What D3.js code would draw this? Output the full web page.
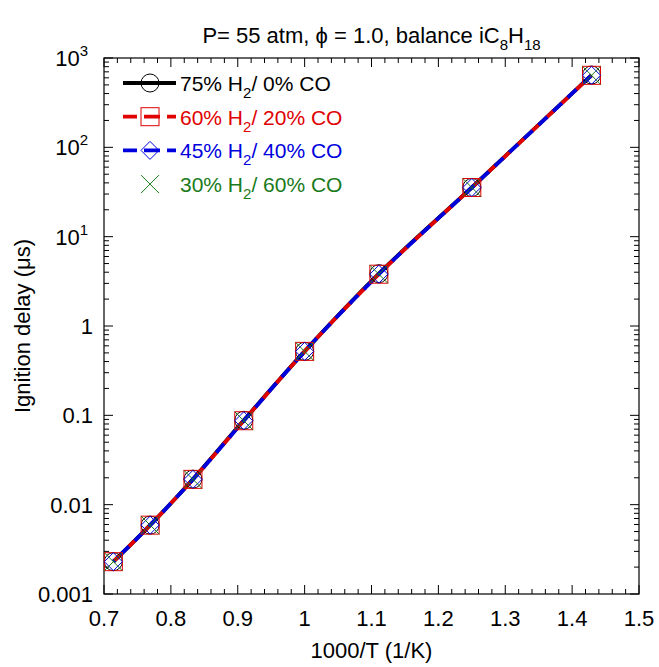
<!DOCTYPE html>
<html>
<head>
<meta charset="utf-8">
<script src="https://cdn.jsdelivr.net/npm/d3@7"></script>
<style>
  body { margin: 0; background: #fff; }
  text { font-family: "Liberation Sans", Arial, sans-serif; }
</style>
</head>
<body>
<div id="chart"></div>
<script>
// data
const invT = [0.714, 0.769, 0.833, 0.909, 1.0, 1.111, 1.25, 1.429];
const tauH2_75 = [0.0023, 0.0059, 0.0193, 0.088, 0.52, 3.85, 35.5, 645];
const tauH2_60 = [0.0023, 0.0059, 0.0192, 0.087, 0.52, 3.8, 35.5, 640];
const tauH2_45 = [0.0023, 0.0059, 0.0192, 0.087, 0.52, 3.8, 35.5, 640];
const tauH2_30 = [0.0023, 0.0059, 0.0192, 0.087, 0.52, 3.8, 35.5, 640];
const xTicks = [0.7, 0.8, 0.9, 1, 1.1, 1.2, 1.3, 1.4, 1.5];
const yTicks = [0.001, 0.01, 0.1, 1, 10, 100, 1000];

const series = [
  {h2: "75%", co: "0% CO", values: tauH2_75, color: "#000000", dash: null, off: 0, marker: "circle"},
  {h2: "60%", co: "20% CO", values: tauH2_60, color: "#e00000", dash: "12,8", off: 0, marker: "square"},
  {h2: "45%", co: "40% CO", values: tauH2_45, color: "#0000dd", dash: "12,8", off: 10, marker: "diamond"},
  {h2: "30%", co: "60% CO", values: tauH2_30, color: "#1a7a1a", dash: null, off: 0, marker: "cross"}
];

const W = 659, H = 667;
const margin = {top: 58, right: 20, bottom: 73, left: 104};
const width = W - margin.left - margin.right,
      height = H - margin.top - margin.bottom;

const svg = d3.select("#chart").append("svg")
  .attr("width", W).attr("height", H);

const g = svg.append("g")
  .attr("transform", "translate(" + margin.left + "," + margin.top + ")");

const x = d3.scaleLinear().domain([0.7, 1.5]).range([0, width]);
const y = d3.scaleLog().domain([0.001, 1000]).range([height, 0]);

// minor ticks
const xMinor = d3.range(0.7, 1.5001, 0.02);
const yMinor = [];
for (let e = -3; e < 3; e++) for (let k = 2; k <= 9; k++) yMinor.push(k * Math.pow(10, e));

const tickG = g.append("g").attr("stroke", "#000").attr("stroke-width", 1);
xMinor.forEach(v => {
  const major = xTicks.some(t => Math.abs(t - v) < 1e-6);
  const len = major ? 9 : 5;
  tickG.append("line").attr("x1", x(v)).attr("x2", x(v)).attr("y1", height).attr("y2", height - len);
  tickG.append("line").attr("x1", x(v)).attr("x2", x(v)).attr("y1", 0).attr("y2", len);
});
yTicks.concat(yMinor).forEach(v => {
  const major = yTicks.indexOf(v) >= 0;
  const len = major ? 9 : 5;
  tickG.append("line").attr("x1", 0).attr("x2", len).attr("y1", y(v)).attr("y2", y(v));
  tickG.append("line").attr("x1", width).attr("x2", width - len).attr("y1", y(v)).attr("y2", y(v));
});

// frame
g.append("rect").attr("width", width).attr("height", height)
  .attr("fill", "none").attr("stroke", "#000").attr("stroke-width", 1.2);

// x tick labels
g.selectAll(".xl").data(xTicks).enter().append("text")
  .attr("x", d => x(d)).attr("y", height + 32)
  .attr("text-anchor", "middle").attr("font-size", 22)
  .text(d => d3.format("~g")(d));

// y tick labels
const yl = g.selectAll(".yl").data(yTicks).enter().append("text")
  .attr("y", d => y(d) + 8)
  .attr("font-size", 22).attr("text-anchor", "end");
yl.each(function(d) {
  const t = d3.select(this);
  const e = Math.round(Math.log10(d));
  if (e >= 1) {
    t.attr("x", -16);
    t.append("tspan").text("10");
    t.append("tspan").attr("dy", -10).attr("font-size", 15).text(e);
  } else {
    t.attr("x", -11).text(d3.format("~g")(d));
  }
});

// axis titles
g.append("text").attr("x", width / 2).attr("y", height + 64)
  .attr("text-anchor", "middle").attr("font-size", 22).text("1000/T (1/K)");
g.append("text")
  .attr("transform", "translate(" + (-74) + "," + (height / 2) + ") rotate(-90)")
  .attr("text-anchor", "middle").attr("font-size", 22).text("Ignition delay (\u03bcs)");

// title
const title = svg.append("text").attr("x", margin.left + width / 2).attr("y", 43)
  .attr("text-anchor", "middle").attr("font-size", 22);
title.append("tspan").text("P= 55 atm, \u03d5 = 1.0, balance iC");
title.append("tspan").attr("dy", 7).attr("font-size", 15).text("8");
title.append("tspan").attr("dy", -7).text("H");
title.append("tspan").attr("dy", 7).attr("font-size", 15).text("18");

// lines
const line = d3.line()
  .x(d => x(d[0])).y(d => y(d[1]))
  .curve(d3.curveMonotoneX);

series.forEach(s => {
  if (s.marker === "cross") return;
  g.append("path")
    .datum(invT.map((v, i) => [v, s.values[i]]))
    .attr("fill", "none").attr("stroke", s.color)
    .attr("stroke-width", 3.8)
    .attr("stroke-dasharray", s.dash)
    .attr("stroke-dashoffset", s.off)
    .attr("d", line);
});

function drawMarker(sel, type, color, cx, cy) {
  if (type === "circle") {
    sel.append("circle").attr("cx", cx).attr("cy", cy).attr("r", 9)
      .attr("fill", "none").attr("stroke", color).attr("stroke-width", 1);
  } else if (type === "square") {
    sel.append("rect").attr("x", cx - 9).attr("y", cy - 9).attr("width", 18).attr("height", 18)
      .attr("fill", "none").attr("stroke", color).attr("stroke-width", 1);
  } else if (type === "diamond") {
    sel.append("path")
      .attr("d", `M${cx},${cy - 9}L${cx + 9},${cy}L${cx},${cy + 9}L${cx - 9},${cy}Z`)
      .attr("fill", "none").attr("stroke", color).attr("stroke-width", 1);
  } else {
    sel.append("path")
      .attr("d", `M${cx - 9},${cy - 9}L${cx + 9},${cy + 9}M${cx - 9},${cy + 9}L${cx + 9},${cy - 9}`)
      .attr("fill", "none").attr("stroke", color).attr("stroke-width", 1);
  }
}

// markers
series.forEach(s => {
  const mg = g.append("g");
  invT.forEach((v, i) => drawMarker(mg, s.marker, s.color, x(v), y(s.values[i])));
});

// legend
const lg = svg.append("g");
series.forEach((s, i) => {
  const ly = 83 + i * 33.7;
  if (s.marker !== "cross") {
    lg.append("line").attr("x1", 123).attr("x2", 176).attr("y1", ly).attr("y2", ly)
      .attr("stroke", s.color).attr("stroke-width", 3.8)
      .attr("stroke-dasharray", s.dash ? "16,7" : null)
      .attr("stroke-dashoffset", s.dash ? 2 : 0);
  }
  drawMarker(lg, s.marker, s.color, 150, ly);
  const t = lg.append("text").attr("x", 180).attr("y", ly + 8)
    .attr("font-size", 21).attr("fill", s.color);
  t.append("tspan").text(s.h2 + " H");
  t.append("tspan").attr("dy", 7).attr("font-size", 15).text("2");
  t.append("tspan").attr("dy", -7).text("/ " + s.co);
});
</script>
</body>
</html>
